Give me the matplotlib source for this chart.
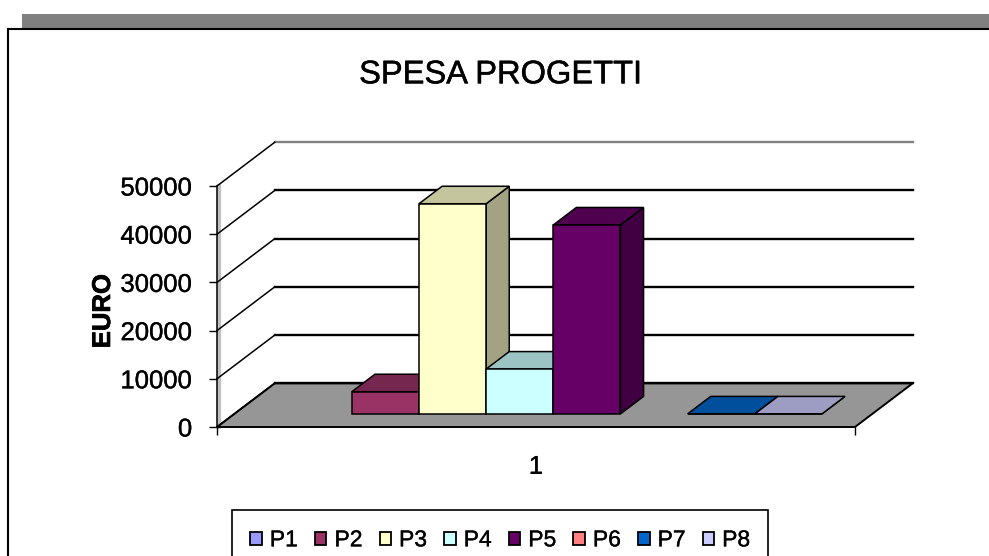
import numpy as np
import matplotlib
matplotlib.use('Agg')
from matplotlib import pyplot as plt
from matplotlib import colors as mcolors
from matplotlib import transforms
from matplotlib import patheffects as pe
from matplotlib.patches import Polygon, Rectangle, Patch
from matplotlib.lines import Line2D

plt.rcParams['font.family'] = ['Liberation Sans', 'DejaVu Sans']

# dati
progetti = ['P1', 'P2', 'P3', 'P4', 'P5', 'P6', 'P7', 'P8']
spesa = [np.nan, 4600, 43600, 9300, 39200, np.nan, 0, 0]
colori = ['#9999FF', '#993366', '#FFFFCC', '#CCFFFF', '#660066', '#FF8080', '#0066CC', '#CCCCFF']
categorie = ['1']
y_ticks = [0, 10000, 20000, 30000, 40000, 50000]

W, H = 989, 556
fig = plt.figure(figsize=(W / 100, H / 100), dpi=100)
spesso = [pe.withStroke(linewidth=0.25, foreground='black')]

# cornice del grafico (stile Excel)
fig.add_artist(Rectangle((22 / W, 1 - 29 / H), (W - 22) / W, 15 / H, transform=fig.transFigure,
                         fc='#808080', ec='none'))
fig.add_artist(Line2D([8 / W, 1], [1 - 29 / H, 1 - 29 / H], transform=fig.transFigure, color='k', lw=1.5))
fig.add_artist(Line2D([8 / W, 8 / W], [0, 1 - 29 / H], transform=fig.transFigure, color='k', lw=1.5))

ax = fig.add_axes([217 / W, 129 / H, 638 / W, 241 / H])
ax.set_xlim(0, 1)
ax.set_ylim(0, 50000)
ax.patch.set_visible(False)

# profondita' 3D in unita' dati
DX = 57.7 / 638
DY = 43.7 / 48.2 * 10000


def proj(x, v, d):
    return x + DX * d, v + DY * d


# pavimento
floor = Polygon([proj(0, 0, 0), proj(0, 0, 1), proj(1, 0, 1), proj(1, 0, 0)],
                fc='#969696', ec='k', lw=1.4, clip_on=False, zorder=1)
ax.add_patch(floor)

# griglia: parete di fondo e parete sinistra
for v in y_ticks:
    xb0, yb = proj(0, v, 1)
    xb1, _ = proj(1, v, 1)
    col = '#808080' if v == y_ticks[-1] else 'k'
    ax.plot([xb0, xb1], [yb, yb], color=col, lw=1.7, clip_on=False, zorder=1.1)
    xa, ya = proj(0, v, 0)
    ax.plot([xa, xb0], [ya, yb], color='k', lw=1.1, clip_on=False, zorder=1.1)

off = transforms.offset_copy(ax.transData, fig=fig, x=2, y=0, units='dots')
ax.plot([0, 0], [0, y_ticks[-1]], color='#C0C0C0', lw=3, transform=off, clip_on=False, zorder=0.9)

# barre 3D
w = 1 / 9.5
gap = 0.75 * w
d0, d1 = 0.3, 0.7
fx, fv, fc = [], [], []
for i, (v, c) in enumerate(zip(spesa, colori)):
    if np.isnan(v):
        continue
    x0 = gap + i * w
    x1 = x0 + w
    rgb = np.array(mcolors.to_rgb(c))
    side = Polygon([proj(x1, 0, d0), proj(x1, 0, d1), proj(x1, v, d1), proj(x1, v, d0)],
                   fc=rgb * 0.64, ec='k', lw=1.1, clip_on=False, zorder=2)
    top = Polygon([proj(x0, v, d0), proj(x1, v, d0), proj(x1, v, d1), proj(x0, v, d1)],
                  fc=rgb * 0.77, ec='k', lw=1.1, clip_on=False, zorder=3)
    ax.add_patch(side)
    ax.add_patch(top)
    fx.append(proj(x0, 0, d0)[0])
    fv.append(v)
    fc.append(c)

ax.bar(fx, fv, width=w, bottom=DY * d0, align='edge', color=fc, edgecolor='k', lw=1.1,
       zorder=4, clip_on=False)

# assi
for s in ['top', 'right', 'bottom']:
    ax.spines[s].set_visible(False)
ax.spines['left'].set_linewidth(1.1)
ax.set_yticks(y_ticks, [str(t) for t in y_ticks])
ax.tick_params(axis='y', direction='out', length=5.8, width=1, pad=12, labelsize=18.5)
ax.set_xticks([0.5], categorie)
ax.set_xticks([0, 1], minor=True)
ax.tick_params(axis='x', which='major', length=0, pad=20, labelsize=18.5)
ax.tick_params(axis='x', which='minor', length=5.8, width=1, direction='out')
for t in ax.get_yticklabels() + ax.get_xticklabels():
    t.set_path_effects(spesso)
ax.set_ylabel('EURO', fontsize=18.5, fontweight='bold',
              path_effects=[pe.withStroke(linewidth=0.5, foreground='black')])
ax.yaxis.set_label_coords(-(217 - 115) / 638, 0.481)

fig.text(500.5 / W, 1 - 83.3 / H, 'SPESA PROGETTI', ha='center', va='baseline', fontsize=23.5,
         path_effects=[pe.withStroke(linewidth=0.35, foreground='black')])

handles = [Patch(facecolor=c, edgecolor='k', lw=1.3) for c in colori]
leg = fig.legend(handles, progetti, loc='upper left', bbox_to_anchor=(232 / W, 1 - 510 / H), ncol=8,
                 fontsize=16.5, frameon=True, fancybox=False, edgecolor='k', framealpha=1,
                 handlelength=0.5, handleheight=0.5, handletextpad=0.35, columnspacing=0.75,
                 borderpad=0.8, borderaxespad=0)
leg.get_frame().set_linewidth(1.2)
for t in leg.get_texts():
    t.set_path_effects(spesso)

plt.savefig('out.png', dpi=100)
